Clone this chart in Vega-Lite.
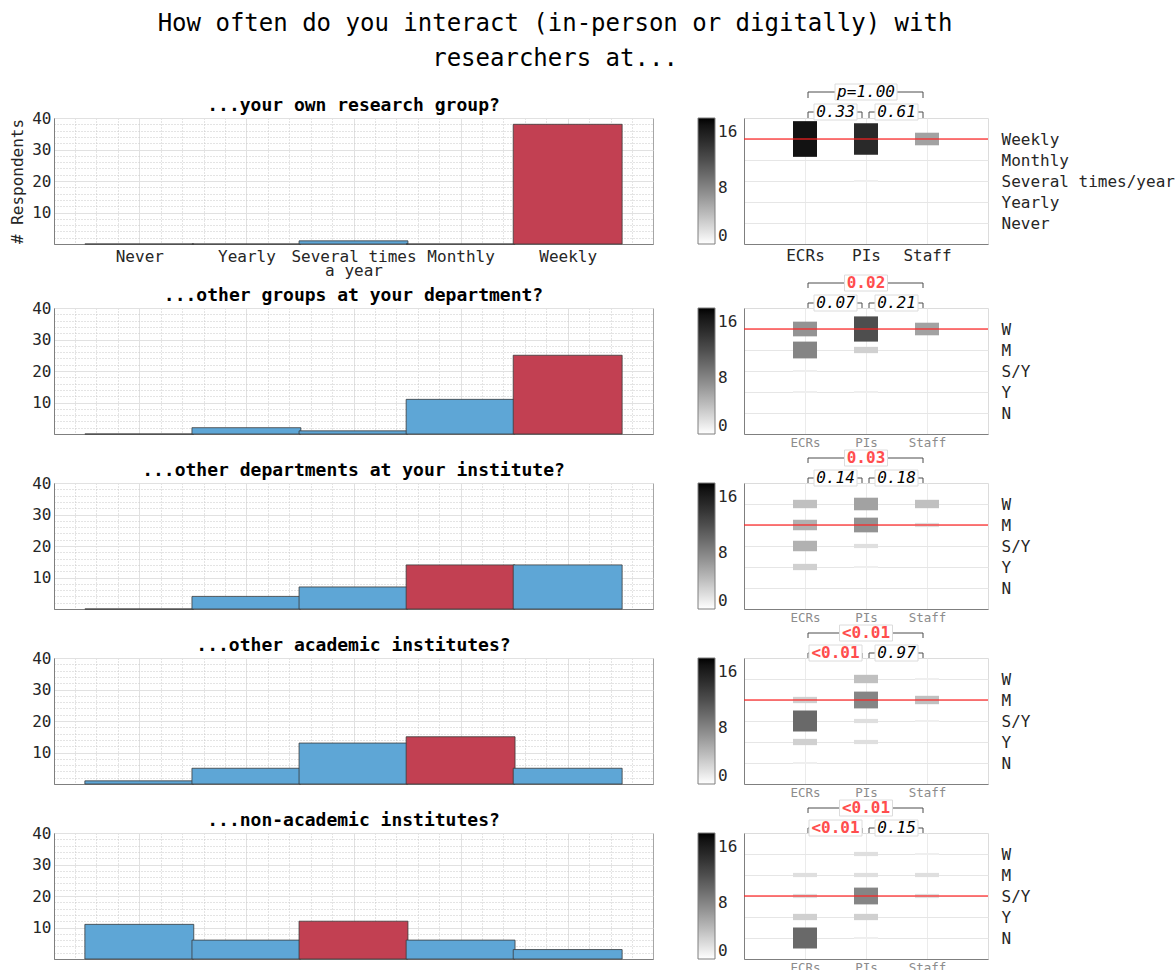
{
"$schema": "https://vega.github.io/schema/vega-lite/v6.json",
"padding": {"left": 9, "top": 12, "right": 2, "bottom": 2},
"title": {"text": ["How often do you interact (in-person or digitally) with", "researchers at..."], "fontSize": 24, "fontWeight": "normal", "lineHeight": 35, "frame": "group", "anchor": "start", "align": "center", "dx": 501, "offset": 12, "font": "DejaVu Sans Mono", "color": "#000000"},
"datasets": {
"bars": [
{"q":"own","level":1,"count":0},{"q":"own","level":2,"count":0},{"q":"own","level":3,"count":1},{"q":"own","level":4,"count":0},{"q":"own","level":5,"count":38},
{"q":"dept","level":1,"count":0},{"q":"dept","level":2,"count":2},{"q":"dept","level":3,"count":1},{"q":"dept","level":4,"count":11},{"q":"dept","level":5,"count":25},
{"q":"inst","level":1,"count":0},{"q":"inst","level":2,"count":4},{"q":"inst","level":3,"count":7},{"q":"inst","level":4,"count":14},{"q":"inst","level":5,"count":14},
{"q":"acad","level":1,"count":1},{"q":"acad","level":2,"count":5},{"q":"acad","level":3,"count":13},{"q":"acad","level":4,"count":15},{"q":"acad","level":5,"count":5},
{"q":"nonacad","level":1,"count":11},{"q":"nonacad","level":2,"count":6},{"q":"nonacad","level":3,"count":12},{"q":"nonacad","level":4,"count":6},{"q":"nonacad","level":5,"count":3}
],
"heat": [
{"q":"own","g":"ECRs","level":5,"n":17},{"q":"own","g":"PIs","level":5,"n":15},{"q":"own","g":"PIs","level":3,"n":1},{"q":"own","g":"Staff","level":5,"n":6},
{"q":"dept","g":"ECRs","level":5,"n":7},{"q":"dept","g":"ECRs","level":4,"n":8},{"q":"dept","g":"ECRs","level":3,"n":1},{"q":"dept","g":"ECRs","level":2,"n":1},{"q":"dept","g":"PIs","level":5,"n":12},{"q":"dept","g":"PIs","level":4,"n":3},{"q":"dept","g":"PIs","level":2,"n":1},{"q":"dept","g":"Staff","level":5,"n":6},
{"q":"inst","g":"ECRs","level":5,"n":4},{"q":"inst","g":"ECRs","level":4,"n":5},{"q":"inst","g":"ECRs","level":3,"n":5},{"q":"inst","g":"ECRs","level":2,"n":3},{"q":"inst","g":"PIs","level":5,"n":6},{"q":"inst","g":"PIs","level":4,"n":7},{"q":"inst","g":"PIs","level":3,"n":2},{"q":"inst","g":"PIs","level":2,"n":1},{"q":"inst","g":"Staff","level":5,"n":4},{"q":"inst","g":"Staff","level":4,"n":2},
{"q":"acad","g":"ECRs","level":4,"n":3},{"q":"acad","g":"ECRs","level":3,"n":10},{"q":"acad","g":"ECRs","level":2,"n":3},{"q":"acad","g":"ECRs","level":1,"n":1},{"q":"acad","g":"PIs","level":5,"n":4},{"q":"acad","g":"PIs","level":4,"n":8},{"q":"acad","g":"PIs","level":3,"n":2},{"q":"acad","g":"PIs","level":2,"n":2},{"q":"acad","g":"Staff","level":5,"n":1},{"q":"acad","g":"Staff","level":4,"n":4},{"q":"acad","g":"Staff","level":3,"n":1},
{"q":"nonacad","g":"ECRs","level":4,"n":2},{"q":"nonacad","g":"ECRs","level":3,"n":2},{"q":"nonacad","g":"ECRs","level":2,"n":3},{"q":"nonacad","g":"ECRs","level":1,"n":10},{"q":"nonacad","g":"PIs","level":5,"n":2},{"q":"nonacad","g":"PIs","level":4,"n":2},{"q":"nonacad","g":"PIs","level":3,"n":8},{"q":"nonacad","g":"PIs","level":2,"n":3},{"q":"nonacad","g":"PIs","level":1,"n":1},{"q":"nonacad","g":"Staff","level":5,"n":1},{"q":"nonacad","g":"Staff","level":4,"n":2},{"q":"nonacad","g":"Staff","level":3,"n":2}
],
"medians": [
{"q":"own","median":5},{"q":"dept","median":5},{"q":"inst","median":4},{"q":"acad","median":4},{"q":"nonacad","median":3}
],
"pvals": [
{"q":"own","g1":"ECRs","g2":"Staff","pair":"ECRs-Staff","tier":"all","p":"p=1.00","sig":false},
{"q":"own","g1":"ECRs","g2":"PIs","pair":"ECRs-PIs","tier":"pair","p":"0.33","sig":false},
{"q":"own","g1":"PIs","g2":"Staff","pair":"PIs-Staff","tier":"pair","p":"0.61","sig":false},
{"q":"dept","g1":"ECRs","g2":"Staff","pair":"ECRs-Staff","tier":"all","p":"0.02","sig":true},
{"q":"dept","g1":"ECRs","g2":"PIs","pair":"ECRs-PIs","tier":"pair","p":"0.07","sig":false},
{"q":"dept","g1":"PIs","g2":"Staff","pair":"PIs-Staff","tier":"pair","p":"0.21","sig":false},
{"q":"inst","g1":"ECRs","g2":"Staff","pair":"ECRs-Staff","tier":"all","p":"0.03","sig":true},
{"q":"inst","g1":"ECRs","g2":"PIs","pair":"ECRs-PIs","tier":"pair","p":"0.14","sig":false},
{"q":"inst","g1":"PIs","g2":"Staff","pair":"PIs-Staff","tier":"pair","p":"0.18","sig":false},
{"q":"acad","g1":"ECRs","g2":"Staff","pair":"ECRs-Staff","tier":"all","p":"<0.01","sig":true},
{"q":"acad","g1":"ECRs","g2":"PIs","pair":"ECRs-PIs","tier":"pair","p":"<0.01","sig":true},
{"q":"acad","g1":"PIs","g2":"Staff","pair":"PIs-Staff","tier":"pair","p":"0.97","sig":false},
{"q":"nonacad","g1":"ECRs","g2":"Staff","pair":"ECRs-Staff","tier":"all","p":"<0.01","sig":true},
{"q":"nonacad","g1":"ECRs","g2":"PIs","pair":"ECRs-PIs","tier":"pair","p":"<0.01","sig":true},
{"q":"nonacad","g1":"PIs","g2":"Staff","pair":"PIs-Staff","tier":"pair","p":"0.15","sig":false}
]
},
"spacing": 190,
"bounds": "flush",
"resolve": {"scale": {"color": "independent", "size": "independent"}, "legend": {"color": "independent"}},
"vconcat": [
{"hconcat": [
 {"width": 599, "height": 126,
  "title": {"text": "...your own research group?", "baseline": "bottom", "offset": 4, "dy": 27},
  "data": {"name": "bars"},
  "transform": [{"filter": "datum.q == 'own'"}, {"lookup": "q", "from": {"data": {"name": "medians"}, "key": "q", "fields": ["median"]}}],
  "layer": [
   {"mark": {"type": "point", "opacity": 0},
    "encoding": {
     "x": {"field": "level", "type": "quantitative", "scale": {"domain": [0.25, 5.75], "nice": false, "zero": false}, "axis": {"orient": "bottom", "values": [0.4,0.6,0.8,1.2,1.4,1.6,1.8,2.2,2.4,2.6,2.8,3.2,3.4,3.6,3.8,4.2,4.4,4.6,4.8,5.2,5.4,5.6], "grid": true, "gridDash": [1,2], "gridColor": "#c8c8c8", "labels": false, "domain": false, "title": null}},
     "y": {"field": "count", "type": "quantitative", "scale": {"domain": [0, 40], "nice": false}, "axis": {"orient": "left", "values": [2,4,6,8,12,14,16,18,22,24,26,28,32,34,36,38], "grid": true, "gridDash": [1,2], "gridColor": "#c8c8c8", "labels": false, "domain": false, "title": null}}}},
   {"mark": {"type": "bar", "width": 108.9, "stroke": "#3a3a3a", "strokeWidth": 0.8},
    "encoding": {
     "x": {"field": "level", "type": "quantitative", "axis": {"orient": "bottom", "values": [1,2,3,4,5], "grid": true, "labelExpr": "datum.value == 3 ? ['Several times','a year'] : ['','Never','Yearly','','Monthly','Weekly'][datum.value]", "labelPadding": 4, "labelLineHeight": 14, "title": null}},
     "y": {"field": "count", "type": "quantitative", "axis": {"orient": "left", "values": [10,20,30,40], "grid": true, "labelPadding": 3, "title": "# Respondents", "titlePadding": 6}},
     "color": {"condition": {"test": "datum.level == datum.median", "value": "#C24052"}, "value": "#5EA6D6"}}}
  ],
  "resolve": {"axis": {"x": "independent", "y": "independent"}}
 },
 {"width": 244, "height": 126,
  "view": {"stroke": "#dcdcdc"},
  "layer": [
   {"data": {"name": "heat"}, "transform": [{"filter": "datum.q == 'own'"}],
    "layer": [
     {"mark": {"type": "tick", "orient": "vertical", "thickness": 24, "opacity": 1},
      "encoding": {
       "x": {"field": "g", "type": "nominal", "scale": {"type": "point", "domain": ["ECRs","PIs","Staff"], "padding": 1}, "axis": {"orient": "bottom", "grid": true, "gridColor": "#ebebeb", "labelAngle": 0, "labelPadding": 3, "labelFontSize": 16, "labelColor": "#262626", "title": null}},
       "y": {"field": "level", "type": "quantitative", "scale": {"domain": [0,6], "nice": false}, "axis": {"orient": "right", "values": [1,2,3,4,5], "labelExpr": "['','Never','Yearly','Several times/year','Monthly','Weekly'][datum.value]", "grid": true, "gridColor": "#e6e6e6", "domain": false, "labelPadding": 13, "title": null}},
       "size": {"field": "n", "type": "quantitative", "scale": {"domain": [0,10], "range": [0,21]}, "legend": null},
       "color": {"field": "n", "type": "quantitative", "scale": {"domain": [0,18], "range": ["#ffffff","#000000"]}, "legend": {"orient": "none", "legendX": -46, "legendY": 0, "direction": "vertical", "gradientLength": 126, "gradientThickness": 17, "title": null, "values": [0,8,16], "labelOffset": 3, "labelBaseline": "middle", "gradientStrokeColor": "#7f7f7f", "gradientStrokeWidth": 1, "padding": 0}}}},
     {"data": {"name": "medians"}, "transform": [{"filter": "datum.q == 'own'"}],
      "mark": {"type": "rule", "color": "#ff2020", "opacity": 0.6, "strokeWidth": 2},
      "encoding": {"y": {"field": "median", "type": "quantitative", "axis": {"orient": "left", "labels": false, "grid": false, "title": null}}}}
    ],
    "resolve": {"axis": {"y": "independent"}}},
   {"data": {"name": "pvals"}, "transform": [{"filter": "datum.q == 'own'"}],
    "layer": [
     {"mark": {"type": "rule", "color": "#4d4d4d", "strokeWidth": 1, "xOffset": 3, "x2Offset": -4},
      "encoding": {"x": {"field": "g1", "type": "nominal", "scale": {"type": "point", "domain": ["ECRs","PIs","Staff"], "padding": 1}, "axis": null}, "x2": {"field": "g2"}, "y": {"field": "tier", "type": "nominal", "scale": {"type": "point", "domain": ["all","pair"], "range": [-26,-6], "padding": 0}, "axis": null}}},
     {"mark": {"type": "rule", "color": "#4d4d4d", "strokeWidth": 1, "xOffset": 3, "y2Offset": 6},
      "encoding": {"x": {"field": "g1", "type": "nominal", "scale": {"type": "point", "domain": ["ECRs","PIs","Staff"], "padding": 1}, "axis": null}, "y": {"field": "tier", "type": "nominal", "scale": {"type": "point", "domain": ["all","pair"], "range": [-26,-6], "padding": 0}, "axis": null}, "y2": {"field": "tier"}}},
     {"mark": {"type": "rule", "color": "#4d4d4d", "strokeWidth": 1, "xOffset": -4, "y2Offset": 6},
      "encoding": {"x": {"field": "g2", "type": "nominal", "scale": {"type": "point", "domain": ["ECRs","PIs","Staff"], "padding": 1}, "axis": null}, "y": {"field": "tier", "type": "nominal", "scale": {"type": "point", "domain": ["all","pair"], "range": [-26,-6], "padding": 0}, "axis": null}, "y2": {"field": "tier"}}}
    ]},
   {"data": {"name": "pvals"}, "transform": [{"filter": "datum.q == 'own'"}],
    "encoding": {"x": {"field": "pair", "type": "nominal", "scale": {"type": "point", "domain": ["ECRs-PIs","ECRs-Staff","PIs-Staff"], "range": [91.5,152.5], "padding": 0}, "axis": null}, "y": {"field": "tier", "type": "nominal", "scale": {"type": "point", "domain": ["all","pair"], "range": [-26,-6], "padding": 0}, "axis": null}},
    "layer": [
     {"transform": [{"filter": "length(datum.p) == 4"}], "mark": {"type": "tick", "orient": "horizontal", "size": 43, "thickness": 16, "fill": "#ffffff", "stroke": "#dcdcdc", "strokeWidth": 1, "opacity": 1}},
     {"transform": [{"filter": "length(datum.p) == 5"}], "mark": {"type": "tick", "orient": "horizontal", "size": 53, "thickness": 16, "fill": "#ffffff", "stroke": "#dcdcdc", "strokeWidth": 1, "opacity": 1}},
     {"transform": [{"filter": "length(datum.p) == 6"}], "mark": {"type": "tick", "orient": "horizontal", "size": 62, "thickness": 16, "fill": "#ffffff", "stroke": "#dcdcdc", "strokeWidth": 1, "opacity": 1}},
     {"transform": [{"filter": "datum.sig"}], "mark": {"type": "text", "fontSize": 16, "fontWeight": "bold", "color": "#ff4d4d"}, "encoding": {"text": {"field": "p"}}},
     {"transform": [{"filter": "!datum.sig"}], "mark": {"type": "text", "fontSize": 16, "fontStyle": "italic", "color": "#000000"}, "encoding": {"text": {"field": "p"}}}
    ]}
  ],
  "resolve": {"scale": {"x": "independent", "y": "independent"}}
 }
 ], "spacing": 91, "bounds": "flush", "resolve": {"scale": {"color": "independent", "size": "independent"}, "legend": {"color": "independent"}}},
{"vconcat": [
{"hconcat": [
 {"width": 599, "height": 126,
  "title": {"text": "...other groups at your department?", "baseline": "bottom", "offset": 4, "dy": 27},
  "data": {"name": "bars"},
  "transform": [{"filter": "datum.q == 'dept'"}, {"lookup": "q", "from": {"data": {"name": "medians"}, "key": "q", "fields": ["median"]}}],
  "layer": [
   {"mark": {"type": "point", "opacity": 0},
    "encoding": {
     "x": {"field": "level", "type": "quantitative", "scale": {"domain": [0.25, 5.75], "nice": false, "zero": false}, "axis": {"orient": "bottom", "values": [0.4,0.6,0.8,1.2,1.4,1.6,1.8,2.2,2.4,2.6,2.8,3.2,3.4,3.6,3.8,4.2,4.4,4.6,4.8,5.2,5.4,5.6], "grid": true, "gridDash": [1,2], "gridColor": "#c8c8c8", "labels": false, "domain": false, "title": null}},
     "y": {"field": "count", "type": "quantitative", "scale": {"domain": [0, 40], "nice": false}, "axis": {"orient": "left", "values": [2,4,6,8,12,14,16,18,22,24,26,28,32,34,36,38], "grid": true, "gridDash": [1,2], "gridColor": "#c8c8c8", "labels": false, "domain": false, "title": null}}}},
   {"mark": {"type": "bar", "width": 108.9, "stroke": "#3a3a3a", "strokeWidth": 0.8},
    "encoding": {
     "x": {"field": "level", "type": "quantitative", "axis": {"orient": "bottom", "values": [1,2,3,4,5], "grid": true, "labels": false, "title": null}},
     "y": {"field": "count", "type": "quantitative", "axis": {"orient": "left", "values": [10,20,30,40], "grid": true, "labelPadding": 3, "title": null}},
     "color": {"condition": {"test": "datum.level == datum.median", "value": "#C24052"}, "value": "#5EA6D6"}}}
  ],
  "resolve": {"axis": {"x": "independent", "y": "independent"}}
 },
 {"width": 244, "height": 126,
  "view": {"stroke": "#dcdcdc"},
  "layer": [
   {"data": {"name": "heat"}, "transform": [{"filter": "datum.q == 'dept'"}],
    "layer": [
     {"mark": {"type": "tick", "orient": "vertical", "thickness": 24, "opacity": 1},
      "encoding": {
       "x": {"field": "g", "type": "nominal", "scale": {"type": "point", "domain": ["ECRs","PIs","Staff"], "padding": 1}, "axis": {"orient": "bottom", "grid": true, "gridColor": "#ebebeb", "labelAngle": 0, "labelPadding": 2, "labelFontSize": 12.5, "labelColor": "#8c8c8c", "title": null}},
       "y": {"field": "level", "type": "quantitative", "scale": {"domain": [0,6], "nice": false}, "axis": {"orient": "right", "values": [1,2,3,4,5], "labelExpr": "['','N','Y','S/Y','M','W'][datum.value]", "grid": true, "gridColor": "#e6e6e6", "domain": false, "labelPadding": 13, "title": null}},
       "size": {"field": "n", "type": "quantitative", "scale": {"domain": [0,10], "range": [0,21]}, "legend": null},
       "color": {"field": "n", "type": "quantitative", "scale": {"domain": [0,18], "range": ["#ffffff","#000000"]}, "legend": {"orient": "none", "legendX": -46, "legendY": 0, "direction": "vertical", "gradientLength": 126, "gradientThickness": 17, "title": null, "values": [0,8,16], "labelOffset": 3, "labelBaseline": "middle", "gradientStrokeColor": "#7f7f7f", "gradientStrokeWidth": 1, "padding": 0}}}},
     {"data": {"name": "medians"}, "transform": [{"filter": "datum.q == 'dept'"}],
      "mark": {"type": "rule", "color": "#ff2020", "opacity": 0.6, "strokeWidth": 2},
      "encoding": {"y": {"field": "median", "type": "quantitative", "axis": {"orient": "left", "labels": false, "grid": false, "title": null}}}}
    ],
    "resolve": {"axis": {"y": "independent"}}},
   {"data": {"name": "pvals"}, "transform": [{"filter": "datum.q == 'dept'"}],
    "layer": [
     {"mark": {"type": "rule", "color": "#4d4d4d", "strokeWidth": 1, "xOffset": 3, "x2Offset": -4},
      "encoding": {"x": {"field": "g1", "type": "nominal", "scale": {"type": "point", "domain": ["ECRs","PIs","Staff"], "padding": 1}, "axis": null}, "x2": {"field": "g2"}, "y": {"field": "tier", "type": "nominal", "scale": {"type": "point", "domain": ["all","pair"], "range": [-25,-5], "padding": 0}, "axis": null}}},
     {"mark": {"type": "rule", "color": "#4d4d4d", "strokeWidth": 1, "xOffset": 3, "y2Offset": 5},
      "encoding": {"x": {"field": "g1", "type": "nominal", "scale": {"type": "point", "domain": ["ECRs","PIs","Staff"], "padding": 1}, "axis": null}, "y": {"field": "tier", "type": "nominal", "scale": {"type": "point", "domain": ["all","pair"], "range": [-25,-5], "padding": 0}, "axis": null}, "y2": {"field": "tier"}}},
     {"mark": {"type": "rule", "color": "#4d4d4d", "strokeWidth": 1, "xOffset": -4, "y2Offset": 5},
      "encoding": {"x": {"field": "g2", "type": "nominal", "scale": {"type": "point", "domain": ["ECRs","PIs","Staff"], "padding": 1}, "axis": null}, "y": {"field": "tier", "type": "nominal", "scale": {"type": "point", "domain": ["all","pair"], "range": [-25,-5], "padding": 0}, "axis": null}, "y2": {"field": "tier"}}}
    ]},
   {"data": {"name": "pvals"}, "transform": [{"filter": "datum.q == 'dept'"}],
    "encoding": {"x": {"field": "pair", "type": "nominal", "scale": {"type": "point", "domain": ["ECRs-PIs","ECRs-Staff","PIs-Staff"], "range": [91.5,152.5], "padding": 0}, "axis": null}, "y": {"field": "tier", "type": "nominal", "scale": {"type": "point", "domain": ["all","pair"], "range": [-25,-5], "padding": 0}, "axis": null}},
    "layer": [
     {"transform": [{"filter": "length(datum.p) == 4"}], "mark": {"type": "tick", "orient": "horizontal", "size": 43, "thickness": 16, "fill": "#ffffff", "stroke": "#dcdcdc", "strokeWidth": 1, "opacity": 1}},
     {"transform": [{"filter": "length(datum.p) == 5"}], "mark": {"type": "tick", "orient": "horizontal", "size": 53, "thickness": 16, "fill": "#ffffff", "stroke": "#dcdcdc", "strokeWidth": 1, "opacity": 1}},
     {"transform": [{"filter": "length(datum.p) == 6"}], "mark": {"type": "tick", "orient": "horizontal", "size": 62, "thickness": 16, "fill": "#ffffff", "stroke": "#dcdcdc", "strokeWidth": 1, "opacity": 1}},
     {"transform": [{"filter": "datum.sig"}], "mark": {"type": "text", "fontSize": 16, "fontWeight": "bold", "color": "#ff4d4d"}, "encoding": {"text": {"field": "p"}}},
     {"transform": [{"filter": "!datum.sig"}], "mark": {"type": "text", "fontSize": 16, "fontStyle": "italic", "color": "#000000"}, "encoding": {"text": {"field": "p"}}}
    ]}
  ],
  "resolve": {"scale": {"x": "independent", "y": "independent"}}
 }
 ], "spacing": 91, "bounds": "flush", "resolve": {"scale": {"color": "independent", "size": "independent"}, "legend": {"color": "independent"}}},
{"hconcat": [
 {"width": 599, "height": 126,
  "title": {"text": "...other departments at your institute?", "baseline": "bottom", "offset": 4, "dy": 27},
  "data": {"name": "bars"},
  "transform": [{"filter": "datum.q == 'inst'"}, {"lookup": "q", "from": {"data": {"name": "medians"}, "key": "q", "fields": ["median"]}}],
  "layer": [
   {"mark": {"type": "point", "opacity": 0},
    "encoding": {
     "x": {"field": "level", "type": "quantitative", "scale": {"domain": [0.25, 5.75], "nice": false, "zero": false}, "axis": {"orient": "bottom", "values": [0.4,0.6,0.8,1.2,1.4,1.6,1.8,2.2,2.4,2.6,2.8,3.2,3.4,3.6,3.8,4.2,4.4,4.6,4.8,5.2,5.4,5.6], "grid": true, "gridDash": [1,2], "gridColor": "#c8c8c8", "labels": false, "domain": false, "title": null}},
     "y": {"field": "count", "type": "quantitative", "scale": {"domain": [0, 40], "nice": false}, "axis": {"orient": "left", "values": [2,4,6,8,12,14,16,18,22,24,26,28,32,34,36,38], "grid": true, "gridDash": [1,2], "gridColor": "#c8c8c8", "labels": false, "domain": false, "title": null}}}},
   {"mark": {"type": "bar", "width": 108.9, "stroke": "#3a3a3a", "strokeWidth": 0.8},
    "encoding": {
     "x": {"field": "level", "type": "quantitative", "axis": {"orient": "bottom", "values": [1,2,3,4,5], "grid": true, "labels": false, "title": null}},
     "y": {"field": "count", "type": "quantitative", "axis": {"orient": "left", "values": [10,20,30,40], "grid": true, "labelPadding": 3, "title": null}},
     "color": {"condition": {"test": "datum.level == datum.median", "value": "#C24052"}, "value": "#5EA6D6"}}}
  ],
  "resolve": {"axis": {"x": "independent", "y": "independent"}}
 },
 {"width": 244, "height": 126,
  "view": {"stroke": "#dcdcdc"},
  "layer": [
   {"data": {"name": "heat"}, "transform": [{"filter": "datum.q == 'inst'"}],
    "layer": [
     {"mark": {"type": "tick", "orient": "vertical", "thickness": 24, "opacity": 1},
      "encoding": {
       "x": {"field": "g", "type": "nominal", "scale": {"type": "point", "domain": ["ECRs","PIs","Staff"], "padding": 1}, "axis": {"orient": "bottom", "grid": true, "gridColor": "#ebebeb", "labelAngle": 0, "labelPadding": 2, "labelFontSize": 12.5, "labelColor": "#8c8c8c", "title": null}},
       "y": {"field": "level", "type": "quantitative", "scale": {"domain": [0,6], "nice": false}, "axis": {"orient": "right", "values": [1,2,3,4,5], "labelExpr": "['','N','Y','S/Y','M','W'][datum.value]", "grid": true, "gridColor": "#e6e6e6", "domain": false, "labelPadding": 13, "title": null}},
       "size": {"field": "n", "type": "quantitative", "scale": {"domain": [0,10], "range": [0,21]}, "legend": null},
       "color": {"field": "n", "type": "quantitative", "scale": {"domain": [0,18], "range": ["#ffffff","#000000"]}, "legend": {"orient": "none", "legendX": -46, "legendY": 0, "direction": "vertical", "gradientLength": 126, "gradientThickness": 17, "title": null, "values": [0,8,16], "labelOffset": 3, "labelBaseline": "middle", "gradientStrokeColor": "#7f7f7f", "gradientStrokeWidth": 1, "padding": 0}}}},
     {"data": {"name": "medians"}, "transform": [{"filter": "datum.q == 'inst'"}],
      "mark": {"type": "rule", "color": "#ff2020", "opacity": 0.6, "strokeWidth": 2},
      "encoding": {"y": {"field": "median", "type": "quantitative", "axis": {"orient": "left", "labels": false, "grid": false, "title": null}}}}
    ],
    "resolve": {"axis": {"y": "independent"}}},
   {"data": {"name": "pvals"}, "transform": [{"filter": "datum.q == 'inst'"}],
    "layer": [
     {"mark": {"type": "rule", "color": "#4d4d4d", "strokeWidth": 1, "xOffset": 3, "x2Offset": -4},
      "encoding": {"x": {"field": "g1", "type": "nominal", "scale": {"type": "point", "domain": ["ECRs","PIs","Staff"], "padding": 1}, "axis": null}, "x2": {"field": "g2"}, "y": {"field": "tier", "type": "nominal", "scale": {"type": "point", "domain": ["all","pair"], "range": [-25,-5], "padding": 0}, "axis": null}}},
     {"mark": {"type": "rule", "color": "#4d4d4d", "strokeWidth": 1, "xOffset": 3, "y2Offset": 5},
      "encoding": {"x": {"field": "g1", "type": "nominal", "scale": {"type": "point", "domain": ["ECRs","PIs","Staff"], "padding": 1}, "axis": null}, "y": {"field": "tier", "type": "nominal", "scale": {"type": "point", "domain": ["all","pair"], "range": [-25,-5], "padding": 0}, "axis": null}, "y2": {"field": "tier"}}},
     {"mark": {"type": "rule", "color": "#4d4d4d", "strokeWidth": 1, "xOffset": -4, "y2Offset": 5},
      "encoding": {"x": {"field": "g2", "type": "nominal", "scale": {"type": "point", "domain": ["ECRs","PIs","Staff"], "padding": 1}, "axis": null}, "y": {"field": "tier", "type": "nominal", "scale": {"type": "point", "domain": ["all","pair"], "range": [-25,-5], "padding": 0}, "axis": null}, "y2": {"field": "tier"}}}
    ]},
   {"data": {"name": "pvals"}, "transform": [{"filter": "datum.q == 'inst'"}],
    "encoding": {"x": {"field": "pair", "type": "nominal", "scale": {"type": "point", "domain": ["ECRs-PIs","ECRs-Staff","PIs-Staff"], "range": [91.5,152.5], "padding": 0}, "axis": null}, "y": {"field": "tier", "type": "nominal", "scale": {"type": "point", "domain": ["all","pair"], "range": [-25,-5], "padding": 0}, "axis": null}},
    "layer": [
     {"transform": [{"filter": "length(datum.p) == 4"}], "mark": {"type": "tick", "orient": "horizontal", "size": 43, "thickness": 16, "fill": "#ffffff", "stroke": "#dcdcdc", "strokeWidth": 1, "opacity": 1}},
     {"transform": [{"filter": "length(datum.p) == 5"}], "mark": {"type": "tick", "orient": "horizontal", "size": 53, "thickness": 16, "fill": "#ffffff", "stroke": "#dcdcdc", "strokeWidth": 1, "opacity": 1}},
     {"transform": [{"filter": "length(datum.p) == 6"}], "mark": {"type": "tick", "orient": "horizontal", "size": 62, "thickness": 16, "fill": "#ffffff", "stroke": "#dcdcdc", "strokeWidth": 1, "opacity": 1}},
     {"transform": [{"filter": "datum.sig"}], "mark": {"type": "text", "fontSize": 16, "fontWeight": "bold", "color": "#ff4d4d"}, "encoding": {"text": {"field": "p"}}},
     {"transform": [{"filter": "!datum.sig"}], "mark": {"type": "text", "fontSize": 16, "fontStyle": "italic", "color": "#000000"}, "encoding": {"text": {"field": "p"}}}
    ]}
  ],
  "resolve": {"scale": {"x": "independent", "y": "independent"}}
 }
 ], "spacing": 91, "bounds": "flush", "resolve": {"scale": {"color": "independent", "size": "independent"}, "legend": {"color": "independent"}}},
{"hconcat": [
 {"width": 599, "height": 126,
  "title": {"text": "...other academic institutes?", "baseline": "bottom", "offset": 4, "dy": 27},
  "data": {"name": "bars"},
  "transform": [{"filter": "datum.q == 'acad'"}, {"lookup": "q", "from": {"data": {"name": "medians"}, "key": "q", "fields": ["median"]}}],
  "layer": [
   {"mark": {"type": "point", "opacity": 0},
    "encoding": {
     "x": {"field": "level", "type": "quantitative", "scale": {"domain": [0.25, 5.75], "nice": false, "zero": false}, "axis": {"orient": "bottom", "values": [0.4,0.6,0.8,1.2,1.4,1.6,1.8,2.2,2.4,2.6,2.8,3.2,3.4,3.6,3.8,4.2,4.4,4.6,4.8,5.2,5.4,5.6], "grid": true, "gridDash": [1,2], "gridColor": "#c8c8c8", "labels": false, "domain": false, "title": null}},
     "y": {"field": "count", "type": "quantitative", "scale": {"domain": [0, 40], "nice": false}, "axis": {"orient": "left", "values": [2,4,6,8,12,14,16,18,22,24,26,28,32,34,36,38], "grid": true, "gridDash": [1,2], "gridColor": "#c8c8c8", "labels": false, "domain": false, "title": null}}}},
   {"mark": {"type": "bar", "width": 108.9, "stroke": "#3a3a3a", "strokeWidth": 0.8},
    "encoding": {
     "x": {"field": "level", "type": "quantitative", "axis": {"orient": "bottom", "values": [1,2,3,4,5], "grid": true, "labels": false, "title": null}},
     "y": {"field": "count", "type": "quantitative", "axis": {"orient": "left", "values": [10,20,30,40], "grid": true, "labelPadding": 3, "title": null}},
     "color": {"condition": {"test": "datum.level == datum.median", "value": "#C24052"}, "value": "#5EA6D6"}}}
  ],
  "resolve": {"axis": {"x": "independent", "y": "independent"}}
 },
 {"width": 244, "height": 126,
  "view": {"stroke": "#dcdcdc"},
  "layer": [
   {"data": {"name": "heat"}, "transform": [{"filter": "datum.q == 'acad'"}],
    "layer": [
     {"mark": {"type": "tick", "orient": "vertical", "thickness": 24, "opacity": 1},
      "encoding": {
       "x": {"field": "g", "type": "nominal", "scale": {"type": "point", "domain": ["ECRs","PIs","Staff"], "padding": 1}, "axis": {"orient": "bottom", "grid": true, "gridColor": "#ebebeb", "labelAngle": 0, "labelPadding": 2, "labelFontSize": 12.5, "labelColor": "#8c8c8c", "title": null}},
       "y": {"field": "level", "type": "quantitative", "scale": {"domain": [0,6], "nice": false}, "axis": {"orient": "right", "values": [1,2,3,4,5], "labelExpr": "['','N','Y','S/Y','M','W'][datum.value]", "grid": true, "gridColor": "#e6e6e6", "domain": false, "labelPadding": 13, "title": null}},
       "size": {"field": "n", "type": "quantitative", "scale": {"domain": [0,10], "range": [0,21]}, "legend": null},
       "color": {"field": "n", "type": "quantitative", "scale": {"domain": [0,18], "range": ["#ffffff","#000000"]}, "legend": {"orient": "none", "legendX": -46, "legendY": 0, "direction": "vertical", "gradientLength": 126, "gradientThickness": 17, "title": null, "values": [0,8,16], "labelOffset": 3, "labelBaseline": "middle", "gradientStrokeColor": "#7f7f7f", "gradientStrokeWidth": 1, "padding": 0}}}},
     {"data": {"name": "medians"}, "transform": [{"filter": "datum.q == 'acad'"}],
      "mark": {"type": "rule", "color": "#ff2020", "opacity": 0.6, "strokeWidth": 2},
      "encoding": {"y": {"field": "median", "type": "quantitative", "axis": {"orient": "left", "labels": false, "grid": false, "title": null}}}}
    ],
    "resolve": {"axis": {"y": "independent"}}},
   {"data": {"name": "pvals"}, "transform": [{"filter": "datum.q == 'acad'"}],
    "layer": [
     {"mark": {"type": "rule", "color": "#4d4d4d", "strokeWidth": 1, "xOffset": 3, "x2Offset": -4},
      "encoding": {"x": {"field": "g1", "type": "nominal", "scale": {"type": "point", "domain": ["ECRs","PIs","Staff"], "padding": 1}, "axis": null}, "x2": {"field": "g2"}, "y": {"field": "tier", "type": "nominal", "scale": {"type": "point", "domain": ["all","pair"], "range": [-25,-5], "padding": 0}, "axis": null}}},
     {"mark": {"type": "rule", "color": "#4d4d4d", "strokeWidth": 1, "xOffset": 3, "y2Offset": 5},
      "encoding": {"x": {"field": "g1", "type": "nominal", "scale": {"type": "point", "domain": ["ECRs","PIs","Staff"], "padding": 1}, "axis": null}, "y": {"field": "tier", "type": "nominal", "scale": {"type": "point", "domain": ["all","pair"], "range": [-25,-5], "padding": 0}, "axis": null}, "y2": {"field": "tier"}}},
     {"mark": {"type": "rule", "color": "#4d4d4d", "strokeWidth": 1, "xOffset": -4, "y2Offset": 5},
      "encoding": {"x": {"field": "g2", "type": "nominal", "scale": {"type": "point", "domain": ["ECRs","PIs","Staff"], "padding": 1}, "axis": null}, "y": {"field": "tier", "type": "nominal", "scale": {"type": "point", "domain": ["all","pair"], "range": [-25,-5], "padding": 0}, "axis": null}, "y2": {"field": "tier"}}}
    ]},
   {"data": {"name": "pvals"}, "transform": [{"filter": "datum.q == 'acad'"}],
    "encoding": {"x": {"field": "pair", "type": "nominal", "scale": {"type": "point", "domain": ["ECRs-PIs","ECRs-Staff","PIs-Staff"], "range": [91.5,152.5], "padding": 0}, "axis": null}, "y": {"field": "tier", "type": "nominal", "scale": {"type": "point", "domain": ["all","pair"], "range": [-25,-5], "padding": 0}, "axis": null}},
    "layer": [
     {"transform": [{"filter": "length(datum.p) == 4"}], "mark": {"type": "tick", "orient": "horizontal", "size": 43, "thickness": 16, "fill": "#ffffff", "stroke": "#dcdcdc", "strokeWidth": 1, "opacity": 1}},
     {"transform": [{"filter": "length(datum.p) == 5"}], "mark": {"type": "tick", "orient": "horizontal", "size": 53, "thickness": 16, "fill": "#ffffff", "stroke": "#dcdcdc", "strokeWidth": 1, "opacity": 1}},
     {"transform": [{"filter": "length(datum.p) == 6"}], "mark": {"type": "tick", "orient": "horizontal", "size": 62, "thickness": 16, "fill": "#ffffff", "stroke": "#dcdcdc", "strokeWidth": 1, "opacity": 1}},
     {"transform": [{"filter": "datum.sig"}], "mark": {"type": "text", "fontSize": 16, "fontWeight": "bold", "color": "#ff4d4d"}, "encoding": {"text": {"field": "p"}}},
     {"transform": [{"filter": "!datum.sig"}], "mark": {"type": "text", "fontSize": 16, "fontStyle": "italic", "color": "#000000"}, "encoding": {"text": {"field": "p"}}}
    ]}
  ],
  "resolve": {"scale": {"x": "independent", "y": "independent"}}
 }
 ], "spacing": 91, "bounds": "flush", "resolve": {"scale": {"color": "independent", "size": "independent"}, "legend": {"color": "independent"}}},
{"hconcat": [
 {"width": 599, "height": 126,
  "title": {"text": "...non-academic institutes?", "baseline": "bottom", "offset": 4, "dy": 27},
  "data": {"name": "bars"},
  "transform": [{"filter": "datum.q == 'nonacad'"}, {"lookup": "q", "from": {"data": {"name": "medians"}, "key": "q", "fields": ["median"]}}],
  "layer": [
   {"mark": {"type": "point", "opacity": 0},
    "encoding": {
     "x": {"field": "level", "type": "quantitative", "scale": {"domain": [0.25, 5.75], "nice": false, "zero": false}, "axis": {"orient": "bottom", "values": [0.4,0.6,0.8,1.2,1.4,1.6,1.8,2.2,2.4,2.6,2.8,3.2,3.4,3.6,3.8,4.2,4.4,4.6,4.8,5.2,5.4,5.6], "grid": true, "gridDash": [1,2], "gridColor": "#c8c8c8", "labels": false, "domain": false, "title": null}},
     "y": {"field": "count", "type": "quantitative", "scale": {"domain": [0, 40], "nice": false}, "axis": {"orient": "left", "values": [2,4,6,8,12,14,16,18,22,24,26,28,32,34,36,38], "grid": true, "gridDash": [1,2], "gridColor": "#c8c8c8", "labels": false, "domain": false, "title": null}}}},
   {"mark": {"type": "bar", "width": 108.9, "stroke": "#3a3a3a", "strokeWidth": 0.8},
    "encoding": {
     "x": {"field": "level", "type": "quantitative", "axis": {"orient": "bottom", "values": [1,2,3,4,5], "grid": true, "labels": false, "title": null}},
     "y": {"field": "count", "type": "quantitative", "axis": {"orient": "left", "values": [10,20,30,40], "grid": true, "labelPadding": 3, "title": null}},
     "color": {"condition": {"test": "datum.level == datum.median", "value": "#C24052"}, "value": "#5EA6D6"}}}
  ],
  "resolve": {"axis": {"x": "independent", "y": "independent"}}
 },
 {"width": 244, "height": 126,
  "view": {"stroke": "#dcdcdc"},
  "layer": [
   {"data": {"name": "heat"}, "transform": [{"filter": "datum.q == 'nonacad'"}],
    "layer": [
     {"mark": {"type": "tick", "orient": "vertical", "thickness": 24, "opacity": 1},
      "encoding": {
       "x": {"field": "g", "type": "nominal", "scale": {"type": "point", "domain": ["ECRs","PIs","Staff"], "padding": 1}, "axis": {"orient": "bottom", "grid": true, "gridColor": "#ebebeb", "labelAngle": 0, "labelPadding": 2, "labelFontSize": 12.5, "labelColor": "#8c8c8c", "title": null}},
       "y": {"field": "level", "type": "quantitative", "scale": {"domain": [0,6], "nice": false}, "axis": {"orient": "right", "values": [1,2,3,4,5], "labelExpr": "['','N','Y','S/Y','M','W'][datum.value]", "grid": true, "gridColor": "#e6e6e6", "domain": false, "labelPadding": 13, "title": null}},
       "size": {"field": "n", "type": "quantitative", "scale": {"domain": [0,10], "range": [0,21]}, "legend": null},
       "color": {"field": "n", "type": "quantitative", "scale": {"domain": [0,18], "range": ["#ffffff","#000000"]}, "legend": {"orient": "none", "legendX": -46, "legendY": 0, "direction": "vertical", "gradientLength": 126, "gradientThickness": 17, "title": null, "values": [0,8,16], "labelOffset": 3, "labelBaseline": "middle", "gradientStrokeColor": "#7f7f7f", "gradientStrokeWidth": 1, "padding": 0}}}},
     {"data": {"name": "medians"}, "transform": [{"filter": "datum.q == 'nonacad'"}],
      "mark": {"type": "rule", "color": "#ff2020", "opacity": 0.6, "strokeWidth": 2},
      "encoding": {"y": {"field": "median", "type": "quantitative", "axis": {"orient": "left", "labels": false, "grid": false, "title": null}}}}
    ],
    "resolve": {"axis": {"y": "independent"}}},
   {"data": {"name": "pvals"}, "transform": [{"filter": "datum.q == 'nonacad'"}],
    "layer": [
     {"mark": {"type": "rule", "color": "#4d4d4d", "strokeWidth": 1, "xOffset": 3, "x2Offset": -4},
      "encoding": {"x": {"field": "g1", "type": "nominal", "scale": {"type": "point", "domain": ["ECRs","PIs","Staff"], "padding": 1}, "axis": null}, "x2": {"field": "g2"}, "y": {"field": "tier", "type": "nominal", "scale": {"type": "point", "domain": ["all","pair"], "range": [-25,-5], "padding": 0}, "axis": null}}},
     {"mark": {"type": "rule", "color": "#4d4d4d", "strokeWidth": 1, "xOffset": 3, "y2Offset": 5},
      "encoding": {"x": {"field": "g1", "type": "nominal", "scale": {"type": "point", "domain": ["ECRs","PIs","Staff"], "padding": 1}, "axis": null}, "y": {"field": "tier", "type": "nominal", "scale": {"type": "point", "domain": ["all","pair"], "range": [-25,-5], "padding": 0}, "axis": null}, "y2": {"field": "tier"}}},
     {"mark": {"type": "rule", "color": "#4d4d4d", "strokeWidth": 1, "xOffset": -4, "y2Offset": 5},
      "encoding": {"x": {"field": "g2", "type": "nominal", "scale": {"type": "point", "domain": ["ECRs","PIs","Staff"], "padding": 1}, "axis": null}, "y": {"field": "tier", "type": "nominal", "scale": {"type": "point", "domain": ["all","pair"], "range": [-25,-5], "padding": 0}, "axis": null}, "y2": {"field": "tier"}}}
    ]},
   {"data": {"name": "pvals"}, "transform": [{"filter": "datum.q == 'nonacad'"}],
    "encoding": {"x": {"field": "pair", "type": "nominal", "scale": {"type": "point", "domain": ["ECRs-PIs","ECRs-Staff","PIs-Staff"], "range": [91.5,152.5], "padding": 0}, "axis": null}, "y": {"field": "tier", "type": "nominal", "scale": {"type": "point", "domain": ["all","pair"], "range": [-25,-5], "padding": 0}, "axis": null}},
    "layer": [
     {"transform": [{"filter": "length(datum.p) == 4"}], "mark": {"type": "tick", "orient": "horizontal", "size": 43, "thickness": 16, "fill": "#ffffff", "stroke": "#dcdcdc", "strokeWidth": 1, "opacity": 1}},
     {"transform": [{"filter": "length(datum.p) == 5"}], "mark": {"type": "tick", "orient": "horizontal", "size": 53, "thickness": 16, "fill": "#ffffff", "stroke": "#dcdcdc", "strokeWidth": 1, "opacity": 1}},
     {"transform": [{"filter": "length(datum.p) == 6"}], "mark": {"type": "tick", "orient": "horizontal", "size": 62, "thickness": 16, "fill": "#ffffff", "stroke": "#dcdcdc", "strokeWidth": 1, "opacity": 1}},
     {"transform": [{"filter": "datum.sig"}], "mark": {"type": "text", "fontSize": 16, "fontWeight": "bold", "color": "#ff4d4d"}, "encoding": {"text": {"field": "p"}}},
     {"transform": [{"filter": "!datum.sig"}], "mark": {"type": "text", "fontSize": 16, "fontStyle": "italic", "color": "#000000"}, "encoding": {"text": {"field": "p"}}}
    ]}
  ],
  "resolve": {"scale": {"x": "independent", "y": "independent"}}
 }
 ], "spacing": 91, "bounds": "flush", "resolve": {"scale": {"color": "independent", "size": "independent"}, "legend": {"color": "independent"}}}
], "spacing": 175, "bounds": "flush", "resolve": {"scale": {"color": "independent", "size": "independent"}, "legend": {"color": "independent"}}}
],
"config": {
 "font": "DejaVu Sans Mono",
 "view": {"stroke": "#a6a6a6", "strokeWidth": 1},
 "axis": {"labelFont": "DejaVu Sans Mono", "titleFont": "DejaVu Sans Mono", "labelFontSize": 16, "titleFontSize": 16, "titleFontWeight": "normal", "labelColor": "#262626", "titleColor": "#262626", "domainColor": "#7f7f7f", "ticks": false, "gridColor": "#e1e1e1", "gridWidth": 1},
 "title": {"font": "DejaVu Sans Mono", "fontSize": 18, "fontWeight": "bold", "color": "#000000", "anchor": "middle"},
 "legend": {"labelFont": "DejaVu Sans Mono", "labelFontSize": 16, "labelColor": "#262626"}
}
}
